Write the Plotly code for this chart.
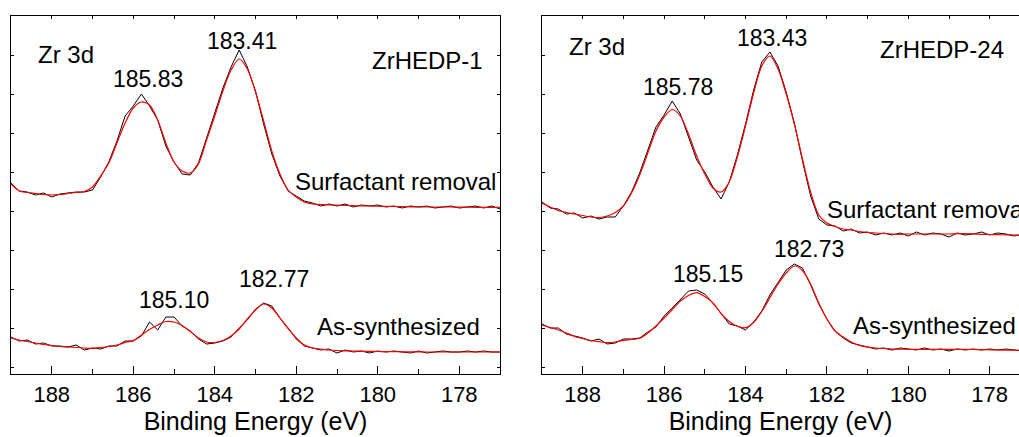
import plotly.graph_objects as go

# Binding energy grid (eV)
energy_ev = [189.0, 188.8, 188.6, 188.4, 188.2, 188.0, 187.8, 187.6, 187.4, 187.2,
             187.0, 186.8, 186.6, 186.4, 186.2, 186.0, 185.8, 185.6, 185.4, 185.2,
             185.0, 184.8, 184.6, 184.4, 184.2, 184.0, 183.8, 183.6, 183.4, 183.2,
             183.0, 182.8, 182.6, 182.4, 182.2, 182.0, 181.8, 181.6, 181.4, 181.2,
             181.0, 180.8, 180.6, 180.4, 180.2, 180.0, 179.8, 179.6, 179.4, 179.2,
             179.0, 178.8, 178.6, 178.4, 178.2, 178.0, 177.8, 177.6, 177.4, 177.2,
             177.0]

# ZrHEDP-1, surfactant removal (offset intensity, a.u.)
p1_removal_data = [191, 183, 182, 179, 181, 177, 180, 181, 182, 182,
                   184, 197, 212, 233, 258, 268, 280, 268, 254, 228,
                   212, 200, 199, 211, 236, 260, 286, 307, 324, 307,
                   283, 250, 220, 198, 183, 178, 173, 171, 168, 170,
                   168, 170, 167, 169, 168, 169, 167, 168, 166, 168,
                   167, 168, 166, 167, 168, 166, 167, 168, 166, 168,
                   165]
p1_removal_fit = [190, 183, 181.5, 180.5, 179.5, 179, 179.5, 180.5, 181.5, 182.5,
                  187, 198, 211, 231, 251, 266, 272, 269, 254, 231,
                  212, 203, 201, 210, 234, 258, 283, 304, 315, 305,
                  282, 253, 223, 200, 184, 177, 172, 170, 169.5, 169,
                  169, 168.5, 168.3, 168, 168, 167.8, 167.6, 167.5, 167.3, 167.2,
                  167, 167, 167, 167, 167, 166.8, 166.8, 166.7, 166.7, 166.7,
                  166.7]
# ZrHEDP-1, as-synthesized
p1_as_data = [37, 33, 34, 30, 31, 28, 28, 27, 29, 24,
              26, 25, 28, 28, 33, 33, 38, 52, 44, 57,
              57, 48, 43, 35, 30, 31, 33, 37, 46, 54,
              65, 71, 68, 56, 46, 35, 28, 26, 24, 25,
              21, 24, 22, 23, 21, 23, 22, 23, 22, 21,
              23, 21, 22, 23, 22, 22, 23, 22, 23, 22,
              22]
p1_as_fit = [36, 34, 32.5, 31, 29.5, 28.5, 27.5, 27, 26.5, 26,
             25.7, 26.5, 27.5, 29, 31.5, 33.5, 39, 44.5, 49, 52.5,
             52, 48.5, 42.5, 36, 32, 31.5, 33.5, 38, 45, 55,
             64, 70, 66, 56, 45.5, 36, 29, 26, 25, 24,
             23.5, 23.2, 23, 22.8, 22.6, 22.5, 22.4, 22.3, 22.2, 22.2,
             22.1, 22, 22, 22, 22, 22, 22, 22, 22, 22,
             22]

# ZrHEDP-24, surfactant removal
p2_removal_data = [172, 166, 165, 160, 161, 156, 158, 155, 157, 157,
                   168, 182, 201, 224, 247, 259, 273, 260, 237, 214,
                   202, 187, 175, 192, 219, 250, 284, 312, 322, 308,
                   282, 251, 213, 178, 155, 149, 148, 143, 145, 141,
                   142, 139, 141, 139, 141, 138, 142, 139, 141, 140,
                   137, 141, 139, 140, 142, 139, 141, 140, 138, 140,
                   139]
p2_removal_fit = [171, 167, 163.5, 161.5, 160, 158.5, 157, 156.5, 158, 161.5,
                  168, 181, 199, 221, 243, 257, 264.5, 258, 240, 218,
                  200, 186, 182, 192, 217, 248, 281, 308, 318, 305,
                  280, 250, 215, 182, 159, 151, 147.5, 145, 144, 142.5,
                  141.5, 141, 140.5, 140, 139.7, 140, 140, 140, 140, 140,
                  140, 140.3, 140.3, 140, 139.7, 139.5, 139.3, 139.2, 139, 139,
                  139]
# ZrHEDP-24, as-synthesized
p2_as_data = [50, 46, 46, 40, 38, 36, 33, 35, 30, 31,
              35, 35, 36, 42, 47, 58, 66, 74, 83, 84,
              80, 71, 61, 50, 48, 44, 52, 63, 79, 91,
              104, 110, 106, 89, 70, 55, 43, 36, 31, 29,
              27, 25, 26, 24, 26, 25, 24, 26, 24, 25,
              23, 25, 24, 25, 24, 25, 24, 25, 24, 23,
              24]
p2_as_fit = [49, 46.5, 44, 41, 37.5, 35.5, 33.5, 32.3, 31.3, 32,
             33.7, 34.5, 35.7, 41, 48, 56, 64.5, 73, 78.5, 81.3,
             77.5, 71, 60.5, 52.5, 47.7, 46.3, 51.5, 62.5, 76.3, 90,
             101, 108, 103.5, 90, 71, 55, 43, 37, 32, 28.5,
             27, 26, 25.5, 25, 24.8, 24.7, 24.7, 24.7, 24.7, 24.7,
             24.6, 24.6, 24.6, 24.5, 24.3, 24.2, 24, 23.9, 23.8, 23.7,
             23.6]

x_ticks = [188, 186, 184, 182, 180, 178]
x_range_1 = [189, 177]
x_range_2 = [189, 177.28]
y_range = [0, 358]

FONT = "Liberation Sans, Arial, sans-serif"
W, H = 1019, 437

fig = go.Figure()

panels = [
    ("x", "y", [p1_removal_data, p1_as_data], [p1_removal_fit, p1_as_fit]),
    ("x2", "y2", [p2_removal_data, p2_as_data], [p2_removal_fit, p2_as_fit]),
]
for xa, ya, datas, fits in panels:
    for d in datas:
        fig.add_trace(go.Scatter(x=energy_ev, y=d, mode="lines", xaxis=xa, yaxis=ya,
                                 line=dict(color="black", width=1), showlegend=False,
                                 hoverinfo="skip"))
    for f in fits:
        fig.add_trace(go.Scatter(x=energy_ev, y=f, mode="lines", xaxis=xa, yaxis=ya,
                                 line=dict(color="#ff0000", width=1.2, shape="spline",
                                           smoothing=0.8),
                                 showlegend=False, hoverinfo="skip"))

ydom = [63 / H, 421 / H]
dom1 = [11 / W, 500 / W]
dom2 = [542 / W, 1.0]

def xaxis_common(rng, dom):
    return dict(domain=dom, range=rng, tickvals=x_ticks, ticks="inside", ticklen=8,
                tickwidth=1, tickcolor="black", showline=True, linecolor="black",
                linewidth=1.3, mirror=True, showgrid=False, zeroline=False,
                tickfont=dict(family=FONT, size=22, color="black"),
                minor=dict(dtick=1, tick0=177, ticks="inside", ticklen=5,
                           tickcolor="black", showgrid=False),
                title=dict(text="Binding Energy (eV)", standoff=4,
                           font=dict(family=FONT, size=25, color="black")),
                automargin=False)

def yaxis_common(dom, mirror):
    return dict(domain=dom, range=y_range, showticklabels=False, ticks="inside",
                ticklen=3, tick0=7, dtick=39, tickcolor="black", showline=True,
                linecolor="black", linewidth=1.3, mirror=mirror, showgrid=False,
                zeroline=False)

def top_axis(rng, dom, anchor):
    return dict(domain=dom, range=rng, overlaying=anchor[0], anchor=anchor[1],
                side="top", ticks="inside", ticklen=3, dtick=1, tick0=177,
                tickcolor="black", showticklabels=False, showgrid=False,
                zeroline=False, showline=False)

fig.update_layout(
    width=W, height=H,
    margin=dict(l=0, r=0, t=0, b=0),
    paper_bgcolor="white", plot_bgcolor="white",
    xaxis=dict(anchor="y", **xaxis_common(x_range_1, dom1)),
    yaxis=dict(anchor="x", **yaxis_common(ydom, "ticks")),
    xaxis2=dict(anchor="y2", **xaxis_common(x_range_2, dom2)),
    yaxis2=dict(anchor="x2", **yaxis_common(ydom, False)),
    xaxis3=top_axis(x_range_1, dom1, ("x", "y")),
    xaxis4=top_axis(x_range_2, dom2, ("x2", "y2")),
)
# empty traces so the top tick axes render
fig.add_trace(go.Scatter(x=[None], y=[None], xaxis="x3", yaxis="y", showlegend=False))
fig.add_trace(go.Scatter(x=[None], y=[None], xaxis="x4", yaxis="y2", showlegend=False))

labels = [
    ("Zr 3d", 66, 54, 24), ("185.83", 147.5, 79, 23), ("183.41", 241.5, 41, 23),
    ("ZrHEDP-1", 427, 60, 24), ("Surfactant removal", 395, 181, 24),
    ("185.10", 174, 299.5, 23), ("182.77", 273.5, 279, 23),
    ("As-synthesized", 398.5, 326.5, 24),
    ("Zr 3d", 596.5, 46.5, 24), ("185.78", 677.5, 87.5, 23), ("183.43", 771.5, 37.5, 23),
    ("ZrHEDP-24", 941.5, 49.5, 24),
    ("185.15", 707.5, 273.5, 23), ("182.73", 808.5, 248.5, 23),
    ("As-synthesized", 934, 325, 24),
]
for text, px, py, fs in labels:
    fig.add_annotation(text=text, x=px / W, y=1 - py / H, xref="paper", yref="paper",
                       xanchor="center", yanchor="middle", showarrow=False,
                       font=dict(family=FONT, size=fs, color="black"))
# the reference crops this label at the right edge of the figure
fig.add_annotation(text="Surfactant removal", x=825 / W, y=1 - 209 / H, xref="paper",
                   yref="paper", xanchor="left", yanchor="middle", showarrow=False,
                   font=dict(family=FONT, size=24, color="black"))

fig.write_html("out.html",
               config={"displayModeBar": False},
               post_script="document.body.style.margin='0';"
                           "document.body.style.overflow='hidden';")
